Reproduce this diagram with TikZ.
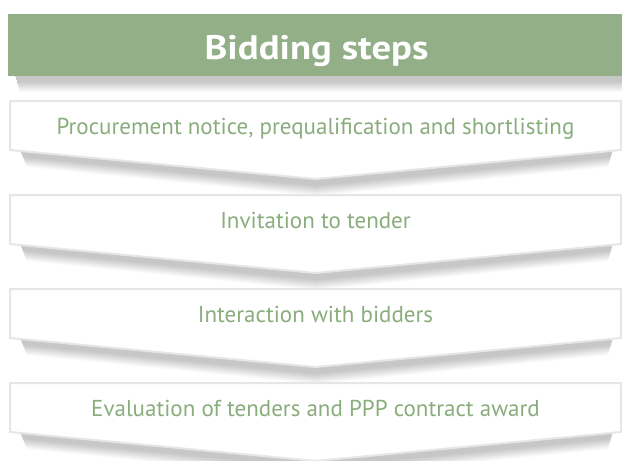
\documentclass[tikz,border=0pt]{standalone}
\usepackage{fontspec}
\setmainfont{PT Sans}
\definecolor{hdr}{HTML}{92AF87}
\definecolor{txt}{HTML}{89AD7C}
\definecolor{edgegray}{HTML}{E6E6E6}
\begin{document}
\begin{tikzpicture}[x=1pt,y=-1pt,
  title/.style={font=\fontsize{34}{40}\selectfont\bfseries, text=white, inner sep=0pt, anchor=base},
  steptext/.style={font=\fontsize{23}{27}\selectfont, text=txt, inner sep=0pt, anchor=base},
  stepbox/.style={fill=white, draw=edgegray, line width=2pt, line join=miter},
]
\useasboundingbox (0,0) rectangle (622,461);
% header shadow
\foreach \i in {17,...,1}{
  \pgfmathsetmacro{\p}{min(22,22*(17-\i)/11)}
  \fill[black!\p] (15+\i*0.3,76) rectangle (622,76+\i);
}
% header
\fill[hdr] (8,14) rectangle (622,76);
\node[title] (title) at (316.5,59) {\scalebox{1.14}[1]{Bidding steps}};
% steps
\foreach \t/\txt [count=\n] in {101/{Procurement notice, prequalification and shortlisting},195/{Invitation to tender},289/{Interaction with bidders},383/{Evaluation of tenders and PPP contract award}}{
  \foreach \i in {18,...,1}{
    \pgfmathsetmacro{\p}{min(22,22*(18-\i)/11)}
    \fill[black!\p] (20+\i*0.4,\t+48) -- (20+\i*0.4,\t+49+\i) -- (315.5,\t+78+\i) -- (613-\i*0.3,\t+49+\i) -- (613-\i*0.3,\t+48) -- cycle;
  }
  \draw[stepbox] (10,\t) -- (621,\t) -- (621,\t+49) -- (315.5,\t+78) -- (10,\t+49) -- cycle;
  \node[steptext] (step\n) at (315.5,\t+33) {\txt};
}
\end{tikzpicture}
\end{document}
